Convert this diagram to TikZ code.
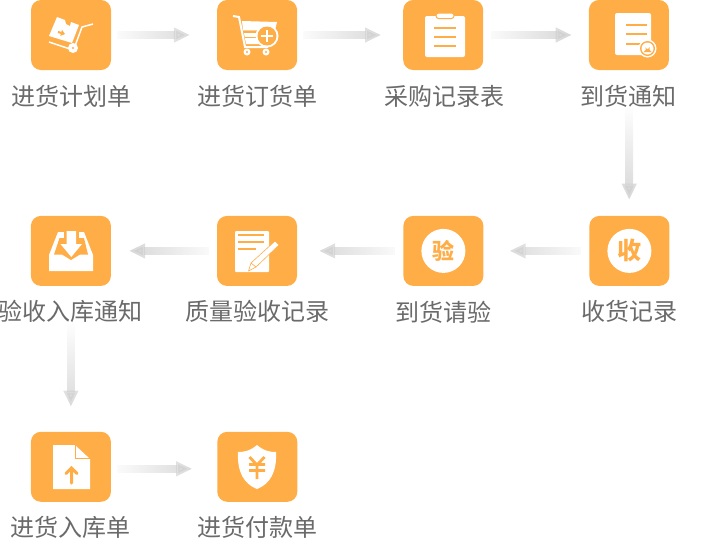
\documentclass[tikz,border=0pt]{standalone}
\usepackage{fontspec}
\setmainfont{Noto Sans CJK SC}
\usetikzlibrary{arrows.meta, positioning, calc, fadings}
\definecolor{tileorange}{HTML}{FFAD47}
\definecolor{flowgray}{HTML}{CFCECF}
\definecolor{labelgray}{HTML}{6A6A6A}
\tikzfading[name=flowfade, left color=transparent!100, middle color=transparent!0, right color=transparent!0]
\begin{document}
\begin{tikzpicture}[
    x=1pt, y=-1pt,
    tilebox/.style={rectangle, rounded corners=10pt, fill=tileorange, minimum width=80pt, minimum height=70pt, inner sep=0pt},
    caption/.style={text=labelgray, font=\fontsize{24}{24}\selectfont, minimum height=24pt, inner sep=0pt, below=13.5pt of #1},
    flowarrow/.style={draw=flowgray, line width=8pt, -{Triangle[length=16pt, width=14pt]}, path fading=flowfade},
    glyph/.style={fill=white, draw=none},
    inkline/.style={draw=tileorange, line width=2pt},
    badge/.style={circle, fill=white, minimum size=44pt, inner sep=0pt, text=tileorange, font=\bfseries\fontsize{24}{24}\selectfont}
]
\useasboundingbox (0,0) rectangle (725,539);

% Tiles
\node (plan) [tilebox] at (71,35) {};
\node (order) [tilebox, right=105.7pt of plan] {};
\node (record) [tilebox, right=105.7pt of order] {};
\node (notice) [tilebox, right=105.3pt of record] {};
\node (receive) [tilebox, below=145.5pt of notice, xshift=0.5pt] {};
\node (inspect) [tilebox, left=105.6pt of receive] {};
\node (quality) [tilebox, left=106pt of inspect] {};
\node (inbound) [tilebox, left=105.7pt of quality] {};
\node (stock) [tilebox, below=145.5pt of inbound] {};
\node (pay) [tilebox, right=106pt of stock] {};

% Captions
\node (plantxt) [caption=plan] {进货计划单};
\node (ordertxt) [caption=order] {进货订货单};
\node (recordtxt) [caption=record, xshift=1.5pt] {采购记录表};
\node (noticetxt) [caption=notice] {到货通知};
\node (receivetxt) [caption=receive] {收货记录};
\node (inspecttxt) [caption=inspect] {到货请验};
\node (qualitytxt) [caption=quality] {质量验收记录};
\node (inboundtxt) [caption=inbound] {验收入库通知};
\node (stocktxt) [caption=stock] {进货入库单};
\node (paytxt) [caption=pay] {进货付款单};

% Arrows
\draw [flowarrow, shorten <=6pt, shorten >=27pt] (plan) -- (order);
\draw [flowarrow, shorten <=6pt, shorten >=22pt] (order) -- (record);
\draw [flowarrow, shorten <=8pt, shorten >=17pt] (record) -- (notice);
\draw [flowarrow, fading angle=-90, shorten >=16pt] (noticetxt) -- (receive);
\draw [flowarrow, fading angle=180, shorten <=8pt, shorten >=26pt] (receive) -- (inspect);
\draw [flowarrow, fading angle=180, shorten <=8pt, shorten >=22pt] (inspect) -- (quality);
\draw [flowarrow, fading angle=180, shorten <=8pt, shorten >=18pt] (quality) -- (inbound);
\draw [flowarrow, fading angle=-90, shorten >=25pt] (inboundtxt) -- (stock);
\draw [flowarrow, shorten <=6pt, shorten >=25pt] ([yshift=-2pt]stock.east) -- ([yshift=-2pt]pay.west);

% Badges
\node (shoubadge) [badge] at (receive) {收};
\node (yanbadge) [badge, font=\bfseries\fontsize{22}{22}\selectfont] at (inspect) {验};

% Hand truck
\fill [glyph] (57,17) -- (65,20) -- (66,24) -- (70,26) -- (71,22) -- (79,25) -- (72,43) -- (49,36) -- cycle;
\draw [draw=tileorange, -{Triangle[length=4pt, width=6pt]}, line width=2pt] (58,32) -- (65,34);
\draw [white, line width=1.5pt] (93,24) -- (82,27) -- (75,46);
\draw [white, line width=1.5pt] (49,42) -- (70,49);
\fill [white] (73,48) circle (5);
\fill [tileorange] (73,48) circle (1.2);

% Cart
\draw [white, line width=2pt] (233,16) -- (239,17) -- (245,47) -- (268,47);
\fill [white] (242,21) -- (277,22) -- (275,30) -- (243,30) -- cycle;
\fill [white] (244,33) -- (262,33) -- (262,44) -- (246,44) -- cycle;
\draw [tileorange!60, line width=1pt] (243,30.5) -- (258,30.5);
\draw [tileorange, line width=1pt] (245,37) -- (260,37);
\fill [white] (267,36) circle (11.5);
\fill [tileorange] (267,36) circle (9.5);
\draw [white, line width=1.2pt] (261,36) -- (273,36) (267,30) -- (267,42);
\fill [white] (247,52) circle (3.5) (266,52) circle (3.5);
\fill [tileorange] (247,52) circle (1.2) (266,52) circle (1.2);

% Clipboard
\fill [glyph, rounded corners=2pt] (425,16) rectangle (465,57);
\draw [fill=white, draw=tileorange, line width=1pt, rounded corners=2.5pt] (436,13) rectangle (454,18.5);
\draw [inkline] (434,27.5) -- (456,27.5) (434,36.5) -- (456,36.5) (434,45.5) -- (456,45.5);

% Notice sheet
\fill [glyph, rounded corners=2pt] (615,13) rectangle (651,55);
\draw [inkline] (626,24.7) -- (647,24.7) (626,34.3) -- (647,34.3) (626,44) -- (643,44);
\fill [white] (647.5,48.5) circle (9);
\fill [tileorange] (647.5,48.5) circle (7.5);
\fill [white] (647.5,48.5) circle (6);
\fill [tileorange] (643.5,52) -- (645.5,50) -- (645.5,47) arc (180:0:2) -- (649.5,50) -- (651.5,52) -- cycle;

% Quality sheet and pen
\fill [glyph, rounded corners=1pt] (235,231) rectangle (269,272);
\draw [inkline] (238,235) -- (264,235) (238,242) -- (264,242) (238,249) -- (256,249);
\draw [fill=white, draw=tileorange, line width=0.6pt, line join=round] (275,241) -- (279,245) -- (256,267) -- (248.5,271) -- (251,263) -- cycle;
\draw [tileorange, line width=0.6pt] (251,263) -- (256,267);

% Inbox
\fill [white] (58,232) -- (84,232) -- (93,255) -- (93,271) -- (49,271) -- (49,255) -- cycle;
\fill [tileorange] (59.5,238) -- (84,238) -- (88,254.5) -- (80,254.5) -- (71,260) -- (62,254.5) -- (54,254.5) -- cycle;
\fill [tileorange] (64,231) rectangle (79,238);
\fill [white] (66.7,231) -- (76,231) -- (76,244) -- (82,244) -- (71.3,257) -- (60.5,244) -- (66.7,244) -- cycle;

% Upload file
\fill [white] (53,445) -- (75,445) -- (90,459) -- (90,489) -- (53,489) -- cycle;
\draw [tileorange, line width=1pt] (75.5,445) -- (75.5,458) -- (90,458);
\fill [white] (77.5,448) -- (77.5,456) -- (86,456) -- cycle;
\draw [tileorange, line width=3pt, line cap=round] (71.5,483) -- (71.5,469) (66,473.5) -- (71.5,468) -- (77,473.5);

% Shield
\fill [white] (257,445) .. controls (250,451) and (244,452) .. (238,452) .. controls (237,472) and (244,484) .. (257,489) .. controls (270,484) and (277,472) .. (276,452) .. controls (270,452) and (264,451) .. (257,445) -- cycle;
\draw [tileorange, line width=2.8pt] (249.5,457) -- (257,465) -- (264.5,457) (249,464.5) -- (265,464.5) (249,470.5) -- (265,470.5) (257,465) -- (257,479);
\end{tikzpicture}
\end{document}
